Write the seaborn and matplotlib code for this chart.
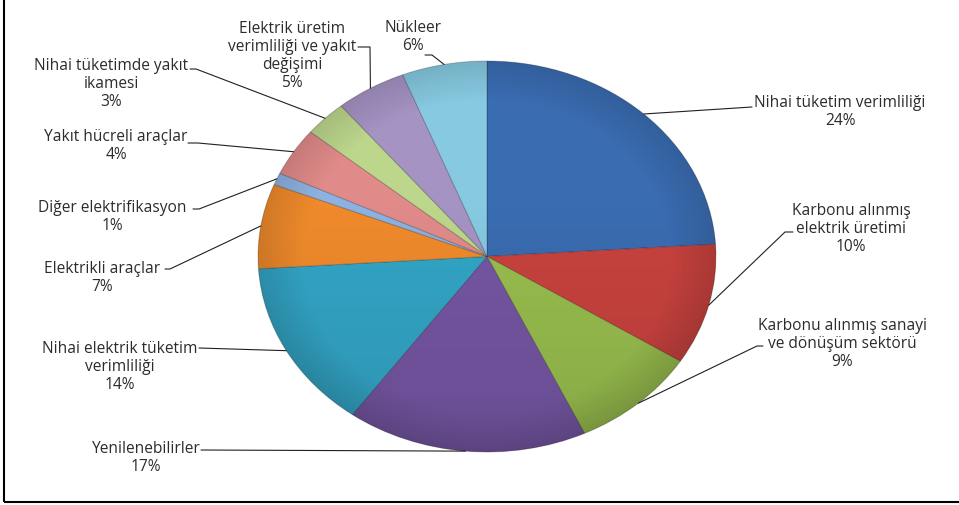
import numpy as np
import matplotlib
matplotlib.use("Agg")
import matplotlib.pyplot as plt
from matplotlib.patches import Ellipse
import seaborn as sns

# ---- data (clockwise from 12 o'clock) ----
labels = [
    "Nihai tüketim verimliliği",
    "Karbonu alınmış\nelektrik üretimi",
    "Karbonu alınmış sanayi\nve dönüşüm sektörü",
    "Yenilenebilirler",
    "Nihai elektrik tüketim\nverimliliği",
    "Elektrikli araçlar",
    "Diğer elektrifikasyon",
    "Yakıt hücreli araçlar",
    "Nihai tüketimde yakıt\nikamesi",
    "Elektrik üretim\nverimliliği ve yakıt\ndeğişimi",
    "Nükleer",
]
values = [24, 10, 9, 17, 14, 7, 1, 4, 3, 5, 6]
colors = ["#3a6cb1", "#c8423e", "#98bd4e", "#7556a3", "#33a5c6", "#ef8a2c",
          "#8db1e0", "#e08b89", "#bcd68c", "#a593c4", "#86c9e0"]

# label layout (pixel coords: block centre, text-side anchor, knee)
label_pos = [(840, 112), (851, 229), (842, 344), (146, 458), (120, 367),
             (102, 278), (112, 217), (116, 146), (111, 84), (292, 56), (413, 37)]
anchors = [(752, 108), (793, 233), (763, 347), (201, 451), (199, 349),
           (165, 270), (193, 210), (188, 144), (190, 70), (358, 48), (425, 56)]
knees = [None, (785, 233), (757, 347), None, None,
         (170, 270), (199, 210), (198, 144), (196, 70), (370, 48), (432, 56)]

sns.set_theme(style="white")
plt.rcParams["font.family"] = ["Open Sans", "DejaVu Sans"]

W, H = 959, 506
fig = plt.figure(figsize=(W / 100, H / 100), dpi=100)
fig.patch.set_facecolor("white")

# pie axes (elliptical pie)
left, right, top, bottom = 258, 716, 62, 453
ax = fig.add_axes([left / W, (H - bottom) / H, (right - left) / W, (bottom - top) / H])
wedges, _ = ax.pie(values, colors=sns.color_palette(colors), startangle=90,
                   counterclock=False, radius=1,
                   wedgeprops=dict(edgecolor=(0, 0, 0, 0.22), linewidth=0.7))
ax.set_aspect("auto")
ax.set_xlim(-1, 1)
ax.set_ylim(-1, 1)
ax.axis("off")

# subtle shading overlay (lighter top, darker rim/bottom) clipped to the pie
yy, xx = np.mgrid[1:-1:300j, -1:1:300j]
rr = np.sqrt(xx ** 2 + yy ** 2)
shade = np.zeros((300, 300, 4))
alpha = 0.10 * np.clip((-yy + 0.3) / 1.3, 0, 1) + 0.12 * np.clip((rr - 0.8) / 0.2, 0, 1)
shade[..., 3] = np.clip(alpha, 0, 0.25)
im = ax.imshow(shade, extent=(-1, 1, -1, 1), aspect="auto", zorder=3,
               interpolation="bilinear")
clip = Ellipse((0, 0), 2, 2, transform=ax.transData, facecolor="none", edgecolor="none")
ax.add_patch(clip)
im.set_clip_path(clip)
ax.set_xlim(-1, 1)
ax.set_ylim(-1, 1)

# overlay axes in pixel coordinates
ov = fig.add_axes([0, 0, 1, 1], zorder=5)
ov.set_xlim(0, W)
ov.set_ylim(H, 0)
ov.axis("off")
ov.patch.set_alpha(0)

for i, (lab, v, w) in enumerate(zip(labels, values, wedges)):
    mid = np.deg2rad((w.theta1 + w.theta2) / 2)
    px = left + (np.cos(mid) + 1) / 2 * (right - left)
    py = bottom - (np.sin(mid) + 1) / 2 * (bottom - top)
    cx, cy = label_pos[i]
    ov.text(cx, cy, f"{lab}\n{v}%", ha="center", va="center",
            multialignment="center", fontsize=11.2, color="#2c2c2c",
            linespacing=1.15)
    pts = [anchors[i]]
    if knees[i] is not None:
        pts.append(knees[i])
    pts.append((px, py))
    xs, ys = zip(*pts)
    ov.plot(xs, ys, color="#202020", lw=0.8)

# frame lines (left and bottom)
ov.plot([4.3, 4.3], [0, 503], color="black", lw=1.5, solid_capstyle="butt")
ov.plot([3.5, W], [503, 503], color="black", lw=1.5, solid_capstyle="butt")

fig.savefig("out.png", dpi=100, facecolor="white")
